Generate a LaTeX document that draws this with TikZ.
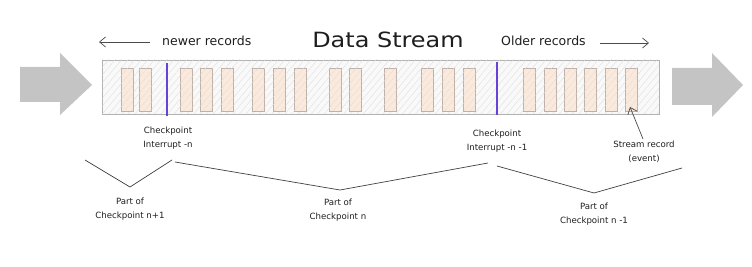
\documentclass[tikz,border=0pt]{standalone}
\usepackage{fontspec}
\setmainfont{DejaVu Sans}
\usetikzlibrary{arrows.meta,patterns.meta}
\definecolor{bandfill}{HTML}{F9F9F9}
\definecolor{hatch}{HTML}{DDDDDD}
\definecolor{recfill}{HTML}{FBEADC}
\definecolor{recline}{HTML}{BFB1A8}
\definecolor{cpline}{HTML}{6741D9}
\definecolor{bigarrow}{HTML}{C4C4C4}
\definecolor{ink}{HTML}{1E1E1E}
\tikzset{
  band/.style={draw=gray!60, line width=0.6pt, fill=bandfill},
  hatchfill/.style={pattern={Lines[angle=50,distance=5pt,line width=0.35pt]}, pattern color=hatch},
  record/.style={draw=recline, line width=0.6pt, fill=recfill},
  cpmark/.style={draw=cpline, line width=2.6pt},
  flow/.style={fill=bigarrow},
  lbl/.style={text=ink, font=\fontsize{8.6}{14}\selectfont, align=center, inner sep=0pt},
  toplbl/.style={text=ink, font=\fontsize{12.5}{14}\selectfont, inner sep=0pt},
  brace/.style={draw=ink!85, line width=0.7pt},
  pointer/.style={draw=ink!80, line width=0.7pt, -{Straight Barb[length=6pt,width=10pt]}},
}
\begin{document}
\begin{tikzpicture}[x=1pt,y=-1pt]
\useasboundingbox (0,0) rectangle (752,267);
% big grey flow arrows
\fill[flow] (20,67) -- (60,67) -- (60,53) -- (92,85) -- (60,115) -- (60,102) -- (20,102) -- cycle;
\fill[flow] (672,68) -- (712,68) -- (712,53) -- (743,85) -- (712,117) -- (712,105) -- (672,105) -- cycle;
% band
\path[band] (102,60) rectangle (659,114);
\path[hatchfill] (102,60) rectangle (659,114);
% records
\foreach \x in {121,139,180,200,221,252,273,294,329,349,384,421,442,463,523,544,564,584,605,625}{
  \path[record] (\x,68) rectangle ++(12.5,43);
  \path[hatchfill] (\x,68) rectangle ++(12.5,43);
}
% checkpoint barriers
\draw[cpmark] (167,63) -- (167,116);
\draw[cpmark] (497,62) -- (497,115);
% top labels
\node[toplbl, anchor=west] (newer) at (162,41) {newer records};
\node[text=ink, font=\fontsize{21}{24}\selectfont, inner sep=0pt] (title) at (388,40) {\scalebox{1.14}[1]{Data Stream}};
\node[toplbl, anchor=west] (older) at (501,41) {Older records};
\coordinate (newerend) at (99,42);
\coordinate (olderend) at (649,43);
\draw[pointer] (150,42) -- (newerend);
\draw[pointer] (600,43) -- (olderend);
% bottom labels
\node[lbl] (cpn) at (168,138) {Checkpoint\\Interrupt -n};
\node[lbl] (cpn1) at (497,141) {Checkpoint\\Interrupt -n -1};
\node[lbl] (srec) at (644,152) {Stream record\\(event)};
\node[lbl] (partA) at (130,209) {Part of\\Checkpoint n+1};
\node[lbl] (partB) at (338,210) {Part of\\Checkpoint n};
\node[lbl] (partC) at (594,214) {Part of\\Checkpoint n -1};
% pointer to a stream record
\coordinate (rectip) at (630,107);
\draw[pointer] (srec.north) ++(-1,-2) -- (rectip);
% braces
\coordinate (a1) at (85,160); \coordinate (a2) at (130,187); \coordinate (a3) at (172,160);
\coordinate (b1) at (175,162); \coordinate (b2) at (340,190); \coordinate (b3) at (488,163);
\coordinate (c1) at (497,166); \coordinate (c2) at (594,193); \coordinate (c3) at (682,168);
\draw[brace] (a1) -- (a2) -- (a3);
\draw[brace] (b1) -- (b2) -- (b3);
\draw[brace] (c1) -- (c2) -- (c3);
\end{tikzpicture}
\end{document}
